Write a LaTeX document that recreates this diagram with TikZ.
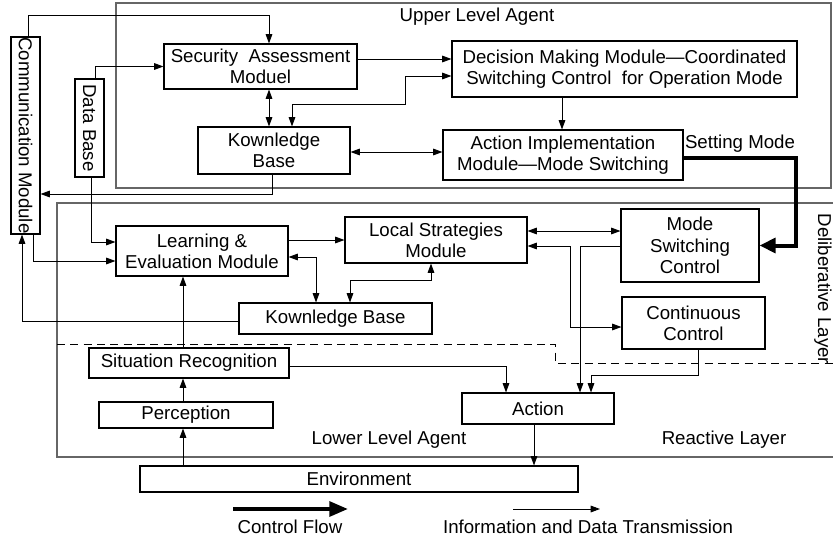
\documentclass[tikz,border=0pt]{standalone}
\usepackage{fontspec}
\setmainfont{Liberation Sans}
\usetikzlibrary{arrows.meta}

\tikzset{
	box/.style={draw, line width=0.8pt, inner sep=0pt, align=center, font=\fontsize{14}{16}\selectfont},
	lbl/.style={inner sep=0pt, align=center, font=\fontsize{14}{16}\selectfont},
	arr/.style={line width=0.7pt, -{Triangle[length=7pt,width=5pt]}},
	darr/.style={line width=0.7pt, {Triangle[length=7pt,width=5pt]}-{Triangle[length=7pt,width=5pt]}},
	ctrl/.style={line width=3pt, -{Triangle[length=12pt,width=11pt]}},
	agent/.style={draw=black!60, line width=1pt}
}

\begin{document}
\begin{tikzpicture}[x=0.75pt, y=-0.75pt]
	\useasboundingbox (0,0) rectangle (833,539);

	% agent frames and layer border
	\draw[agent] (116,3) rectangle (831,188);
	\draw[agent] (833,203) -- (57,203) -- (57,457) -- (833,457);
	\draw[line width=0.7pt, dash pattern=on 6pt off 4pt] (57,344) -- (555,344) -- (555,363) -- (833,363);
	\node[lbl] at (477,17) {Upper Level Agent};
	\node[lbl] at (389,440) {Lower Level Agent};
	\node[lbl] at (724,440) {Reactive Layer};
	\node[lbl, rotate=-90] at (823,289) {Deliberative Layer};

	% upper level agent
	\node[box, minimum width=144.75pt, minimum height=33.75pt] (sec) at (260.5,66.5) {Security~~Assessment\\Moduel};
	\node[box, minimum width=258.75pt, minimum height=42pt] (dec) at (624.5,69) {Decision Making Module---Coordinated\\Switching Control~~for Operation Mode};
	\node[box, minimum width=114pt, minimum height=35.25pt] (ukb) at (274,150.5) {Kownledge\\Base};
	\node[box, minimum width=180pt, minimum height=37.5pt] (impl) at (563,155) {Action Implementation\\Module---Mode Switching};
	\node[box, minimum width=21.75pt, minimum height=147.75pt] (comm) at (25.5,135.5) {};
	\node[lbl, rotate=-90] at (comm) {Communication Module};
	\node[box, minimum width=21.75pt, minimum height=73.5pt] (db) at (89.5,128) {};
	\node[lbl, rotate=-90] at (db) {Data Base};

	% lower level agent
	\node[box, minimum width=129pt, minimum height=37.5pt] (learn) at (202,251) {Learning \&\\Evaluation Module};
	\node[box, minimum width=136.5pt, minimum height=34.5pt] (local) at (436,240) {Local Strategies\\Module};
	\node[box, minimum width=144.75pt, minimum height=23.25pt] (lkb) at (335.5,318.5) {Kownledge Base};
	\node[box, minimum width=103.5pt, minimum height=54.75pt] (msc) at (690,245.5) {Mode\\Switching\\Control};
	\node[box, minimum width=107.25pt, minimum height=39pt] (cc) at (693.5,323) {Continuous\\Control};
	\node[box, minimum width=150pt, minimum height=22.5pt] (sit) at (189,363) {Situation Recognition};
	\node[box, minimum width=130.5pt, minimum height=19.5pt] (perc) at (186,415) {Perception};
	\node[box, minimum width=114pt, minimum height=23.25pt] (act) at (538,408.5) {Action};
	\node[box, minimum width=328.5pt, minimum height=19.5pt] (env) at (359,479) {Environment};

	% upper connections
	\draw[arr] (comm.north -| 28,0) |- (269,15) -- (269,0 |- sec.north);
	\draw[arr] (db.north -| 95,0) |- (sec.west);
	\draw[darr] (269,0 |- sec.south) -- (269,0 |- ukb.north);
	\draw[arr] (272,0 |- ukb.south) |- (comm.east |- 0,194);
	\draw[darr] (dec.west |- 0,76) -| (405,104) -| (292,0 |- ukb.north);
	\draw[arr] (sec.east |- 0,59) -- (dec.west |- 0,59);
	\draw[arr] (562,0 |- dec.south) -- (562,0 |- impl.north);
	\draw[darr] (ukb.east |- 0,152) -- (impl.west |- 0,152);
	\draw[ctrl] (impl.east |- 0,158) -| (796,0 |- msc.east) -- (msc.east);
	\node[lbl] at (740,144) {Setting Mode};

	% lower connections
	\draw[arr] (91,0 |- db.south) |- (learn.west |- 0,242);
	\draw[arr] (33,0 |- comm.south) |- (learn.west |- 0,261);
	\draw[arr] (learn.east |- 0,240) -- (local.west |- 0,240);
	\draw[darr] (learn.east |- 0,257) -| (316,0 |- lkb.north);
	\draw[darr] (431,0 |- local.south) |- (350,280) -- (350,0 |- lkb.north);
	\draw[arr] (lkb.west |- 0,321) -| (22,0 |- comm.south);
	\draw[arr] (183,0 |- sit.north) -- (183,0 |- learn.south);
	\draw[arr] (183,0 |- perc.north) -- (183,0 |- sit.south);
	\draw[arr] (183,0 |- env.north) -- (183,0 |- perc.south);
	\draw[arr] (sit.east |- 0,366) -| (506,0 |- act.north);
	\draw[arr] (534,0 |- act.south) -- (534,0 |- env.north);
	\draw[darr] (local.east |- 0,231) -- (msc.west |- 0,231);
	\draw[darr] (local.east |- 0,246) -| (570,327) -- (cc.west |- 0,327);
	\draw[arr] (msc.west |- 0,246) -| (580,0 |- act.north);
	\draw[arr] (698,0 |- cc.south) |- (591,375) -- (591,0 |- act.north);

	% legend
	\draw[line width=3pt, -{Triangle[length=14pt,width=11pt]}] (233,509) -- (348,509);
	\node[lbl] at (290,527) {Control Flow};
	\draw[arr] (513,509) -- (600,509);
	\node[lbl] at (588,527) {Information and Data Transmission};
\end{tikzpicture}
\end{document}
